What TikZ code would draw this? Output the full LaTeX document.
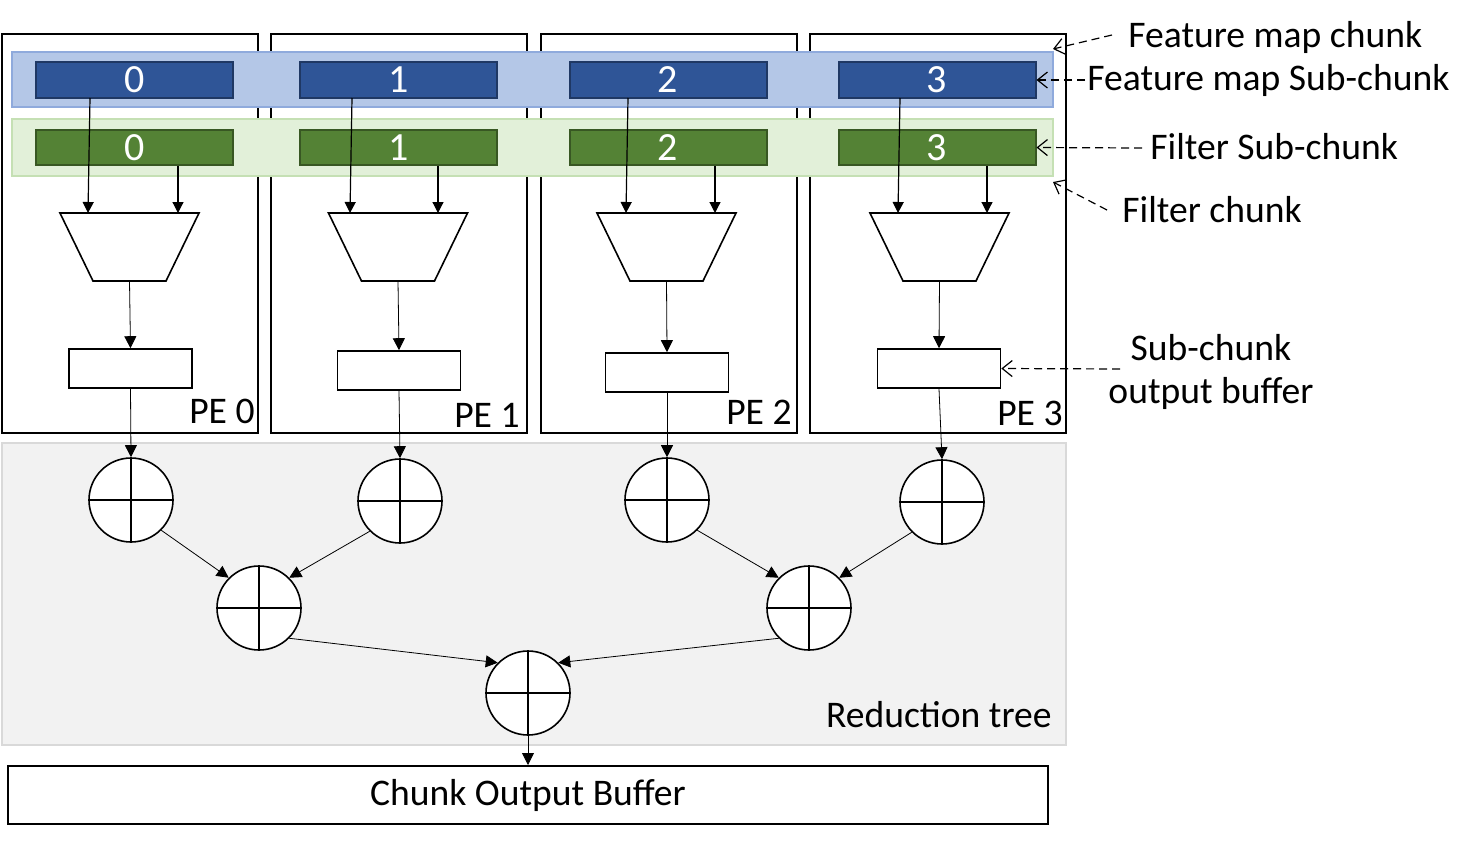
\documentclass[tikz,border=0pt]{standalone}
\usepackage{fontspec}
\setmainfont{Carlito}
\usetikzlibrary{arrows.meta}
\definecolor{bandblue}{HTML}{B4C7E7}
\definecolor{bandblueline}{HTML}{8FAADC}
\definecolor{bandgreen}{HTML}{E2F0D9}
\definecolor{bandgreenline}{HTML}{C5E0B4}
\definecolor{fmblue}{HTML}{2F5597}
\definecolor{fmblueline}{HTML}{1F3864}
\definecolor{flgreen}{HTML}{548235}
\definecolor{flgreenline}{HTML}{385723}
\definecolor{treebg}{HTML}{F2F2F2}
\definecolor{treeline}{HTML}{D9D9D9}
\tikzset{
  pebox/.style={draw, line width=1pt, minimum width=128pt, minimum height=199.5pt, inner sep=0pt},
  fmbox/.style={draw=fmblueline, fill=fmblue, line width=1pt, minimum width=98.5pt, minimum height=18pt, inner sep=0pt, text=white, font=\fontsize{20}{22}\selectfont},
  flbox/.style={draw=flgreenline, fill=flgreen, line width=1pt, minimum width=98.5pt, minimum height=17.5pt, inner sep=0pt, text=white, font=\fontsize{20}{22}\selectfont},
  bufbox/.style={draw, fill=white, line width=0.8pt, minimum width=61.5pt, minimum height=19.5pt, inner sep=0pt},
  adder/.style={circle, draw, fill=white, line width=0.8pt, minimum size=42pt, inner sep=0pt},
  arr/.style={-{Triangle[length=5.5pt,width=5.5pt]}, line width=0.6pt},
  thinarr/.style={-{Triangle[length=6pt,width=6pt]}, line width=0.4pt},
  dasharr/.style={dash pattern=on 4pt off 2.5pt, line width=0.6pt, -{Straight Barb[length=5pt,width=8pt]}},
  lbl/.style={font=\fontsize{18.8}{21.5}\selectfont, inner sep=0pt},
  trap/.style={draw, fill=white, line width=0.8pt}
}
\begin{document}
\begin{tikzpicture}[x=0.5pt,y=-0.5pt]
\useasboundingbox (0,0) rectangle (1472,841);
% reduction tree background
\node[draw=treeline, fill=treebg, line width=1pt, minimum width=532pt, minimum height=151pt, inner sep=0pt] (tree) at (534,594) {};
% PE boxes
\foreach \i/\px in {0/130,1/398.5,2/668.5,3/937.5}{
  \node[pebox] (pe\i) at (\px,233.5) {};
}
% bands
\node[draw=bandblueline, fill=bandblue, line width=1pt, minimum width=520.5pt, minimum height=27.5pt, inner sep=0pt] (fmband) at (532.5,79.5) {};
\node[draw=bandgreenline, fill=bandgreen, line width=1pt, minimum width=520.5pt, minimum height=28.5pt, inner sep=0pt] (flband) at (532.5,147.5) {};
% per-PE content
\foreach \i/\bx/\tx/\bufx/\bufy/\cx/\cy/\lxs/\lxe/\rx in {
  0/134.5/129.5/130.5/368.5/131/500/90/88/178,
  1/398.5/398/399/370.5/400/501/352/350/438,
  2/668/666.5/667/372.5/667/500/628/626/715,
  3/937/939.5/939/368.5/942/502/900/898/987}{
  \node[fmbox] (fm\i) at (\bx,80) {\i};
  \node[flbox] (fl\i) at (\bx,147.5) {\i};
  \draw[trap] ({\tx-69.5},213) -- ({\tx+69.5},213) -- ({\tx+36.5},281) -- ({\tx-36.5},281) -- cycle;
  \coordinate (tl\i) at (\lxe,213);
  \coordinate (tr\i) at (\rx,213);
  \coordinate (tb\i) at (\tx,281);
  \coordinate (fs\i) at (\lxs,98);
  \node[bufbox] (buf\i) at (\bufx,\bufy) {};
  \node[adder] (c\i) at (\cx,\cy) {};
  \draw[line width=0.8pt] (c\i.north) -- (c\i.south) (c\i.west) -- (c\i.east);
  \draw[arr] (fs\i) -- (tl\i);
  \draw[arr] (fl\i.south -| tr\i) -- (tr\i);
  \draw[thinarr] (tb\i) -- (buf\i.north);
  \draw[thinarr] (buf\i.south) -- (c\i.north);
}
% PE labels
\node[lbl, anchor=base east] (pel0) at (255,423) {PE 0};
\node[lbl, anchor=base east] (pel1) at (520,427) {PE 1};
\node[lbl, anchor=base east] (pel2) at (792,424) {PE 2};
\node[lbl, anchor=base east] (pel3) at (1063,425) {PE 3};
% tree
\node[adder] (l0) at (259,608) {};
\node[adder] (l1) at (809,608) {};
\node[adder] (r) at (528,693) {};
\foreach \n in {l0,l1,r}{
  \draw[line width=0.8pt] (\n.north) -- (\n.south) (\n.west) -- (\n.east);
}
\draw[thinarr] (c0.south east) -- (l0.north west);
\draw[thinarr] (c1.south west) -- (l0.north east);
\draw[thinarr] (c2.south east) -- (l1.north west);
\draw[thinarr] (c3.south west) -- (l1.north east);
\draw[thinarr] (l0.south east) -- (r.north west);
\draw[thinarr] (l1.south west) -- (r.north east);
\node[lbl, anchor=base east] (rtl) at (1052,727) {Reduction tree};
% chunk output buffer
\node[draw, line width=1pt, minimum width=520pt, minimum height=29pt, inner sep=0pt, lbl] (cob) at (528,795) {Chunk Output Buffer};
\draw[thinarr] (r.south) -- (cob.north);
% annotations
\node[lbl, anchor=base west] (a1) at (1128,47) {Feature map chunk};
\node[lbl, anchor=base west] (a2) at (1087,90) {Feature map Sub-chunk};
\node[lbl, anchor=base west] (a3) at (1150,159) {Filter Sub-chunk};
\node[lbl, anchor=base west] (a4) at (1122,222) {Filter chunk};
\node[lbl, align=center] (a5) at (1211,372) {Sub-chunk\\output buffer};
\coordinate (d1) at (1112,35);
\coordinate (d2) at (1085,80);
\coordinate (d3) at (1142,148);
\coordinate (d4) at (1107,210);
\coordinate (d5) at (1120,369);
\draw[dasharr] (d1) -- (1053,49);
\draw[dasharr] (d2) -- (fm3.east);
\draw[dasharr] (d3) -- (fl3.east);
\draw[dasharr] (d4) -- (1053,182);
\draw[dasharr] (d5) -- (buf3.east);
\end{tikzpicture}
\end{document}
